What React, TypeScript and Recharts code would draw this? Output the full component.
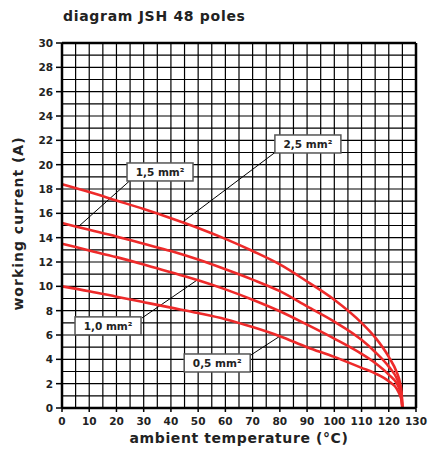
import { LineChart, Line, XAxis, YAxis, CartesianGrid, ReferenceLine, ReferenceDot } from "recharts";

// ambient temperature (°C) sample points along the curves
const temps = [0, 10, 20, 30, 40, 50, 60, 70, 80, 90, 100, 110, 115, 120, 123, 124, 124.7, 125];
// working current (A) per cable cross-section
const s05 = [10.0, 9.6, 9.15, 8.7, 8.25, 7.8, 7.3, 6.65, 5.9, 5.0, 4.2, 3.3, 2.85, 2.2, 1.55, 1.1, 0.6, 0];
const s10 = [13.5, 12.95, 12.4, 11.8, 11.15, 10.5, 9.75, 8.9, 7.95, 6.85, 5.7, 4.45, 3.7, 2.75, 2.0, 1.5, 0.85, 0];
const s15 = [15.2, 14.65, 14.1, 13.5, 12.9, 12.2, 11.4, 10.55, 9.6, 8.35, 7.1, 5.6, 4.6, 3.4, 2.4, 1.8, 1.05, 0];
const s25 = [18.4, 17.75, 17.05, 16.35, 15.6, 14.8, 13.9, 12.9, 11.8, 10.4, 8.9, 7.0, 5.8, 4.2, 2.9, 2.2, 1.3, 0];

const xTicks = [0, 5, 10, 15, 20, 25, 30, 35, 40, 45, 50, 55, 60, 65, 70, 75, 80, 85, 90, 95, 100, 105, 110, 115, 120, 125, 130];
const yTicks = [0, 1, 2, 3, 4, 5, 6, 7, 8, 9, 10, 11, 12, 13, 14, 15, 16, 17, 18, 19, 20, 21, 22, 23, 24, 25, 26, 27, 28, 29, 30];

// callout boxes: label, box centre (T, I), leader start and end (T, I)
const calloutLabels = ["1,5 mm²", "2,5 mm²", "1,0 mm²", "0,5 mm²"];
const calloutX = [36, 90.3, 16.9, 57];
const calloutY = [19.4, 21.7, 6.75, 3.7];
const leaderFromX = [25, 78.2, 29.4, 69];
const leaderFromY = [18.7, 21.0, 7.4, 4.3];
const leaderToX = [6.5, 44.4, 49.2, 80];
const leaderToY = [15.0, 15.3, 10.45, 5.9];

const data = temps.map((t, i) => ({ t, a: s05[i], b: s10[i], c: s15[i], d: s25[i] }));

const FONT = "'DejaVu Sans', sans-serif";
const RED = "#ee2a2a";

function YTick({ x, y, payload }: any) {
  const v = payload.value;
  if (v % 2 !== 0) return null;
  return (
    <g>
      <line x1={x + 3} x2={x + 9} y1={y} y2={y} stroke="#000" strokeWidth={1.5} />
      <text x={x} y={y} dy={4} textAnchor="end" fontFamily={FONT} fontWeight="bold" fontSize={10.5} fill="#222">
        {v}
      </text>
    </g>
  );
}

function XTick({ x, y, payload }: any) {
  const v = payload.value;
  if (v % 10 !== 0) return null;
  return (
    <g>
      <line x1={x} x2={x} y1={y - 8} y2={y - 4} stroke="#000" strokeWidth={1.5} />
      <text x={x} y={y} dy={9} textAnchor="middle" fontFamily={FONT} fontWeight="bold" fontSize={10.5} fill="#222">
        {v}
      </text>
    </g>
  );
}

function YTitle({ viewBox }: any) {
  const cx = viewBox.x + 18;
  const cy = viewBox.y + viewBox.height / 2 - 2;
  return (
    <text x={cx} y={cy} transform={`rotate(-90 ${cx} ${cy})`} textAnchor="middle" dominantBaseline="central"
      fontFamily={FONT} fontWeight="bold" fontSize={14} letterSpacing={1} fill="#222">
      working current (A)
    </text>
  );
}

function XTitle({ viewBox }: any) {
  const cx = viewBox.x + viewBox.width / 2;
  const cy = viewBox.y + 30;
  return (
    <text x={cx} y={cy} textAnchor="middle" dominantBaseline="central"
      fontFamily={FONT} fontWeight="bold" fontSize={14} letterSpacing={0.6} fill="#222">
      ambient temperature (°C)
    </text>
  );
}

const calloutBox = (label: string) => (p: any) => (
  <g>
    <rect x={p.cx - 33} y={p.cy - 9} width={66} height={18} fill="#fff" stroke="#555" strokeWidth={1.5} />
    <text x={p.cx} y={p.cy} dy={4} textAnchor="middle" fontFamily={FONT} fontWeight="bold" fontSize={10.5} fill="#222">
      {label}
    </text>
  </g>
);

export default function App() {
  return (
    <div style={{ position: "absolute", left: 0, top: 0, width: 430, height: 461, background: "#fff" }}>
      <div style={{ position: "absolute", left: 63, top: 8, fontFamily: FONT, fontWeight: "bold", fontSize: 14, letterSpacing: 0.7, color: "#222" }}>
        diagram JSH 48 poles
      </div>
      <LineChart width={430} height={461} data={data} margin={{ top: 43, right: 14, bottom: 0, left: 0 }}>
        <CartesianGrid stroke="#000" strokeWidth={1.2} />
        <XAxis dataKey="t" type="number" domain={[0, 130]} ticks={xTicks} interval={0} height={53}
          tick={<XTick />} tickLine={false} tickSize={6} tickMargin={2}
          axisLine={{ stroke: "#000", strokeWidth: 2.5 }} label={<XTitle />} />
        <YAxis type="number" domain={[0, 30]} ticks={yTicks} interval={0} width={62}
          tick={<YTick />} tickLine={false} tickSize={6} tickMargin={3}
          axisLine={{ stroke: "#000", strokeWidth: 2.5 }} label={<YTitle />} />
        <ReferenceLine y={30} stroke="#000" strokeWidth={2.5} />
        <ReferenceLine x={130} stroke="#000" strokeWidth={2.5} />
        {calloutLabels.map((l, i) => (
          <ReferenceLine key={"l" + l} segment={[{ x: leaderFromX[i], y: leaderFromY[i] }, { x: leaderToX[i], y: leaderToY[i] }]}
            stroke="#000" strokeWidth={1} />
        ))}
        <Line dataKey="a" type="monotone" stroke={RED} strokeWidth={2.6} dot={false} isAnimationActive={false} />
        <Line dataKey="b" type="monotone" stroke={RED} strokeWidth={2.6} dot={false} isAnimationActive={false} />
        <Line dataKey="c" type="monotone" stroke={RED} strokeWidth={2.6} dot={false} isAnimationActive={false} />
        <Line dataKey="d" type="monotone" stroke={RED} strokeWidth={2.6} dot={false} isAnimationActive={false} />
        {calloutLabels.map((l, i) => (
          <ReferenceDot key={"b" + l} x={calloutX[i]} y={calloutY[i]} r={0} shape={calloutBox(l)} />
        ))}
      </LineChart>
    </div>
  );
}
